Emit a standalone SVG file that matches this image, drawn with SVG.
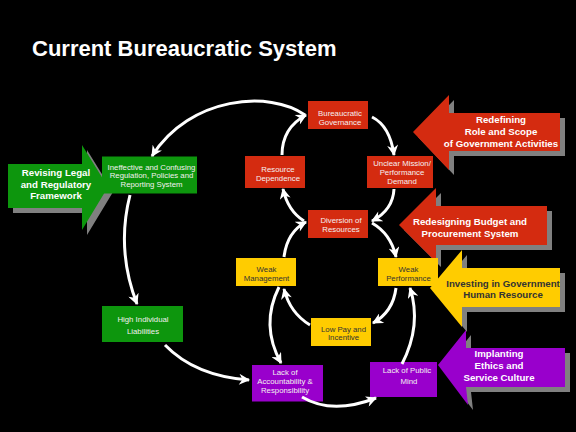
<svg xmlns="http://www.w3.org/2000/svg" width="576" height="432" viewBox="0 0 576 432">
<defs>
<marker id="ah" viewBox="0 0 10 10" refX="9" refY="5" markerUnits="userSpaceOnUse" markerWidth="12" markerHeight="11" orient="auto">
<path d="M0,0 L10,5 L0,10 L3,5 z" fill="#fff"/>
</marker>
<style>
.conn{fill:none;stroke:#fff;stroke-width:3;marker-end:url(#ah)}
.sh{fill:#808080}
.red{fill:#d42b10}
.grn{fill:#0d960d}
.yel{fill:#ffcc00}
.pur{fill:#9900cc}
.bt{font-family:"Liberation Sans",Arial,sans-serif;font-size:9.7px;font-weight:bold;text-anchor:middle;fill:#fff}
.st{font-family:"Liberation Sans",Arial,sans-serif;font-size:7.8px;text-anchor:middle;fill:#f4f0f0}
.dk{fill:#333}
</style>
</defs>
<rect width="576" height="432" fill="#000"/>
<text x="32" y="56" font-family="Liberation Sans,Arial,sans-serif" font-size="22" font-weight="bold" fill="#fff">Current Bureaucratic System</text>

<g id="arrow-legal">
<polygon class="sh" transform="translate(5,5)" points="8,164 82,164 82,145 108,187 82,230 82,208 8,208"/>
<polygon class="grn" points="8,164 82,164 82,145 108,187 82,230 82,208 8,208"/>
<text class="bt" x="56" y="176">Revising Legal</text>
<text class="bt" x="56" y="187.7">and Regulatory</text>
<text class="bt" x="56" y="199.4">Framework</text>
</g>
<g id="arrow-role">
<polygon class="sh" transform="translate(5,5)" points="413,132 449,95 449,113 560,113 560,151 449,151 449,170"/>
<polygon class="red" points="413,132 449,95 449,113 560,113 560,151 449,151 449,170"/>
<text class="bt" x="501" y="123.3">Redefining</text>
<text class="bt" x="501" y="135">Role and Scope</text>
<text class="bt" x="501" y="146.7">of Government Activities</text>
</g>
<g id="arrow-budget">
<polygon class="sh" transform="translate(5,5)" points="399,225 436,188 436,206 547,206 547,245 436,245 436,262"/>
<polygon class="red" points="399,225 436,188 436,206 547,206 547,245 436,245 436,262"/>
<text class="bt" x="470" y="225">Redesigning Budget and</text>
<text class="bt" x="470" y="236.7">Procurement  System</text>
</g>
<g id="arrow-hr">
<polygon class="sh" transform="translate(5,5)" points="430,288 462,250 462,268 560,268 560,307 462,307 462,327"/>
<polygon class="yel" points="430,288 462,250 462,268 560,268 560,307 462,307 462,327"/>
<text class="bt dk" x="503" y="286.7">Investing in Government</text>
<text class="bt dk" x="503" y="298.4">Human Resource</text>
</g>
<g id="arrow-ethics">
<polygon class="sh" transform="translate(5,5)" points="438,365 466,330 466,348 565,348 565,387 466,387 468,405"/>
<polygon class="pur" points="438,365 466,330 466,348 565,348 565,387 466,387 468,405"/>
<text class="bt" x="499" y="357.3">Implanting</text>
<text class="bt" x="499" y="369">Ethics and</text>
<text class="bt" x="499" y="380.6">Service Culture</text>
</g>

<g id="n-bg">
<rect class="red" x="308" y="101" width="60" height="28"/>
<text class="st" x="340" y="116">Bureaucratic</text>
<text class="st" x="340" y="125">Governance</text>
</g>
<g id="n-rd">
<rect class="red" x="245" y="156" width="60" height="32"/>
<text class="st" x="278" y="171.7">Resource</text>
<text class="st" x="278" y="180.7">Dependence</text>
</g>
<g id="n-um">
<rect class="red" x="367" y="156" width="66" height="32"/>
<text class="st" x="402" y="166">Unclear Mission/</text>
<text class="st" x="402" y="175">Performance</text>
<text class="st" x="402" y="183.5">Demand</text>
</g>
<g id="n-dr">
<rect class="red" x="308" y="210" width="60" height="28"/>
<text class="st" x="341" y="223.3">Diversion of</text>
<text class="st" x="341" y="232.3">Resources</text>
</g>
<g id="n-wm">
<rect class="yel" x="236" y="258" width="60" height="28"/>
<text class="st dk" x="266.5" y="271.7">Weak</text>
<text class="st dk" x="266.5" y="280.7">Management</text>
</g>
<g id="n-wp">
<rect class="yel" x="378" y="258" width="60" height="28"/>
<text class="st dk" x="408.5" y="271.7">Weak</text>
<text class="st dk" x="408.5" y="280.7">Performance</text>
</g>
<g id="n-lp">
<rect class="yel" x="311" y="318" width="60" height="28"/>
<text class="st dk" x="343.5" y="331.7">Low Pay and</text>
<text class="st dk" x="343.5" y="340.3">Incentive</text>
</g>
<g id="n-ie">
<rect class="grn" x="102" y="156.5" width="95" height="37"/>
<text class="st" x="151.5" y="170">Ineffective and Confusing</text>
<text class="st" x="151.5" y="178.3">Regulation, Policies and</text>
<text class="st" x="151.5" y="186.7">Reporting System</text>
</g>
<g id="n-hi">
<rect class="grn" x="102" y="306" width="81" height="36"/>
<text class="st" x="143" y="321.7">High Individual</text>
<text class="st" x="143" y="334">Liabilities</text>
</g>
<g id="n-la">
<rect class="pur" x="252" y="365" width="71" height="36.5"/>
<text class="st" x="285" y="375">Lack of</text>
<text class="st" x="285" y="384">Accountability &amp;</text>
<text class="st" x="285" y="392.7">Responsibility</text>
</g>
<g id="n-lpm">
<rect class="pur" x="370" y="362" width="67" height="35"/>
<text class="st" x="407" y="373.3">Lack of Public</text>
<text class="st" x="409" y="384">Mind</text>
</g>

<g id="connectors">
<path class="conn" d="M372,117 Q390,126 394,155"/>
<path class="conn" d="M394,189 Q393,210 372,221"/>
<path class="conn" d="M372,223 Q391,234 396,257"/>
<path class="conn" d="M396,288 Q393,312 373,323"/>
<path class="conn" d="M310,325 Q290,313 284,289"/>
<path class="conn" d="M284,257 Q287,232 306,222"/>
<path class="conn" d="M304,221 Q288,211 283,189"/>
<path class="conn" d="M282,155 Q282,128 306,115"/>
<path class="conn" d="M305,115 C270,90 190,96 152,156"/>
<path class="conn" d="M130,195 Q116,250 137,304"/>
<path class="conn" d="M165,345 Q195,376 249,380"/>
<path class="conn" d="M279,287 Q260,325 281,363"/>
<path class="conn" d="M402,364 Q422,325 410,288"/>
<path class="conn" d="M302,397 Q332,415 376,398"/>
</g>
</svg>
